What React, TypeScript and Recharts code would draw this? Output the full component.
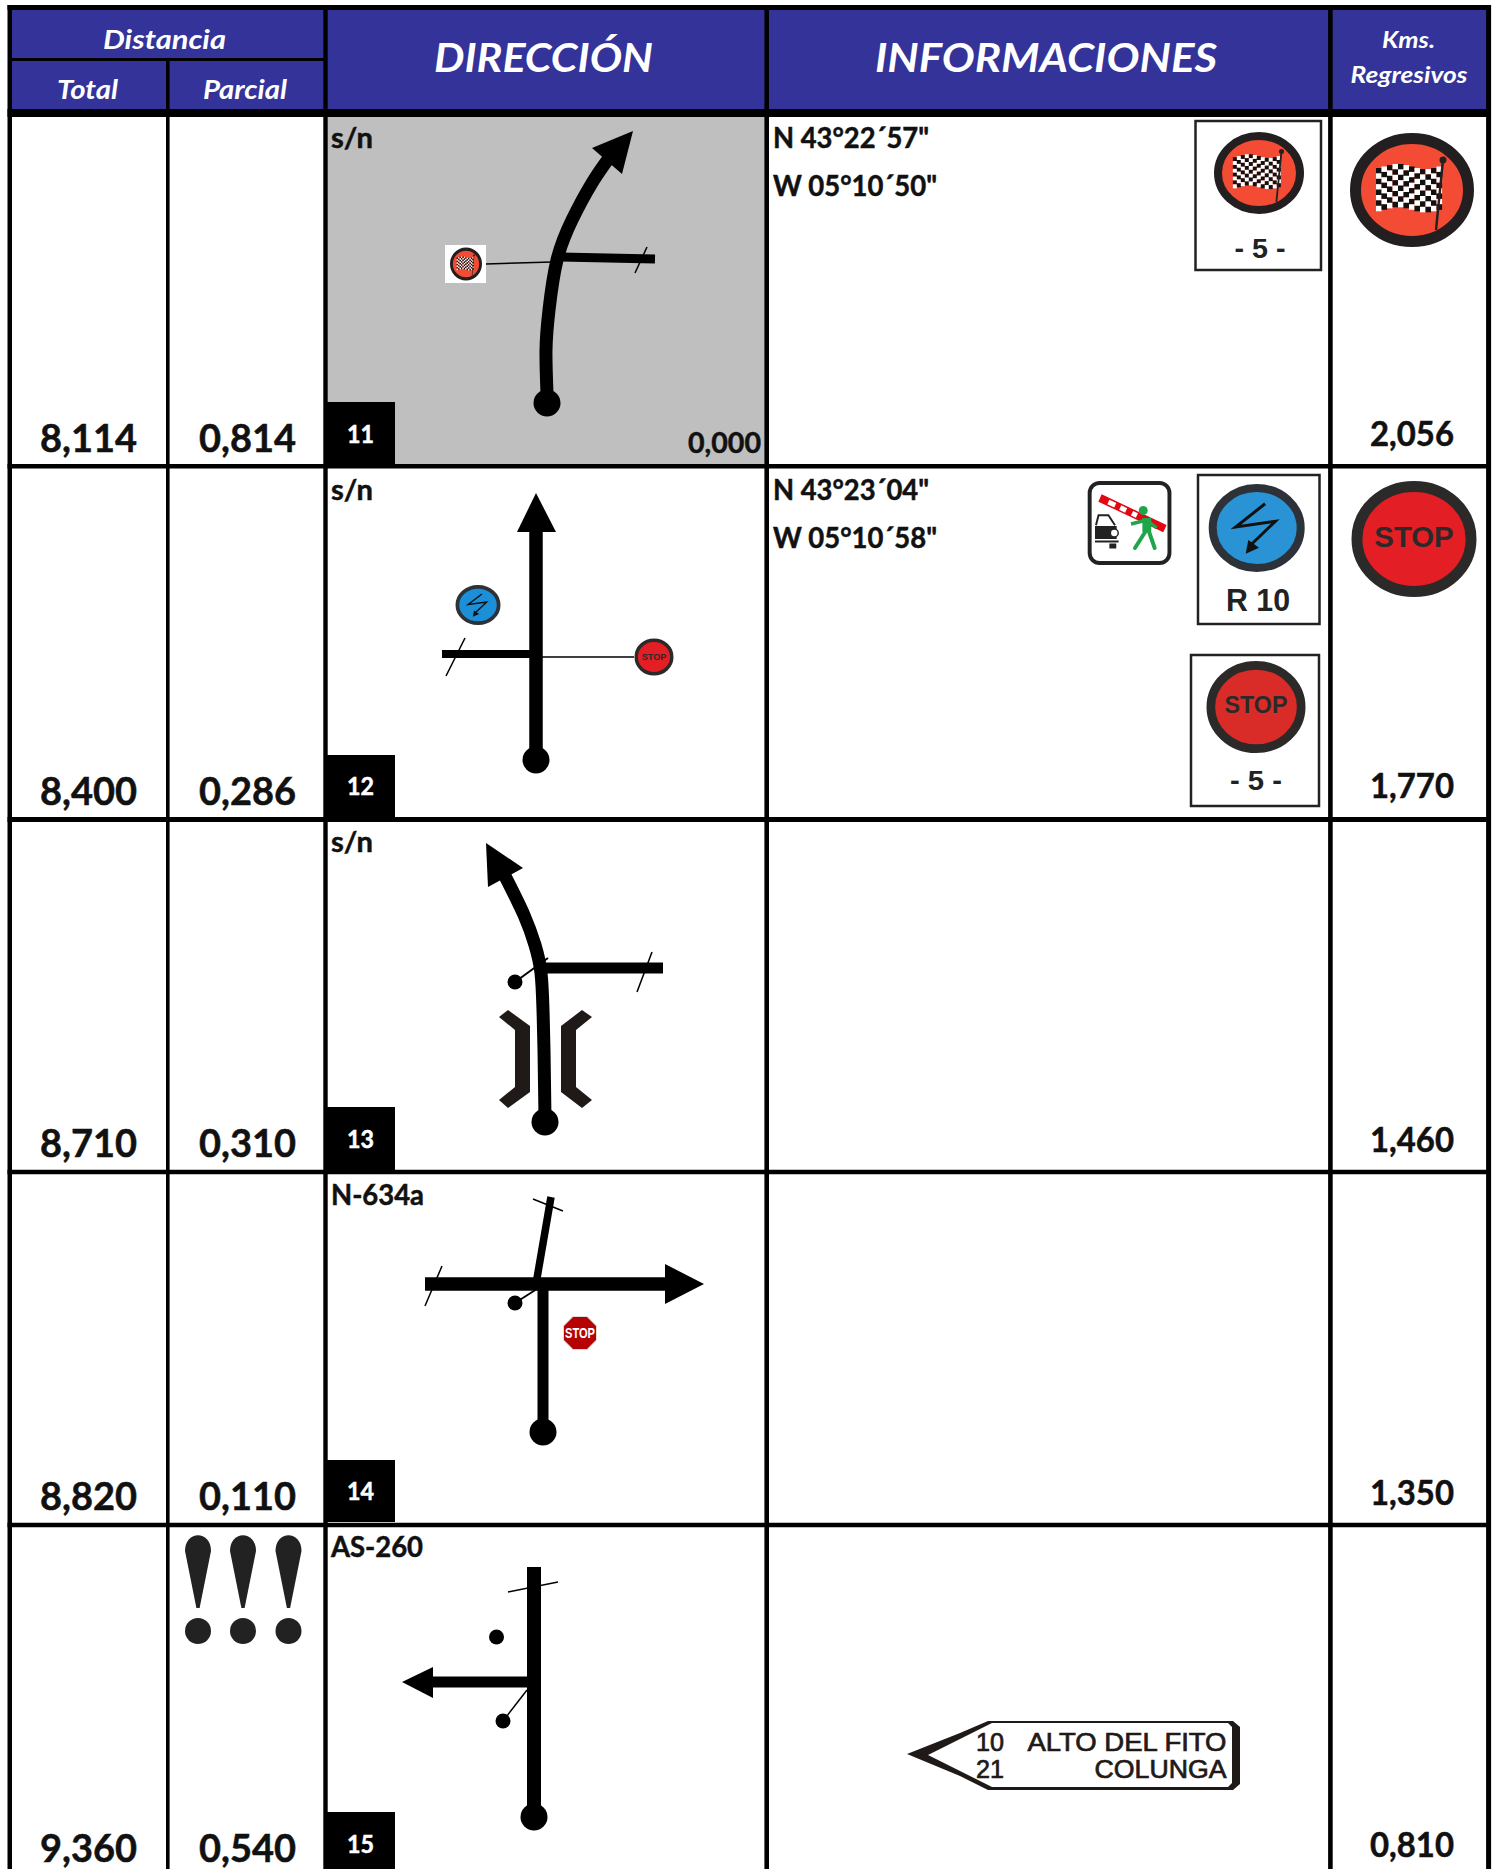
import React from "react";
import {
  ComposedChart,
  Line,
  Polygon,
  ReferenceArea,
  ReferenceDot,
  ReferenceLine,
  Scatter,
  XAxis,
  YAxis,
} from "recharts";

// ── Table values ─────────────────────────────────────────────
const TOTALS = ["8,114", "8,400", "8,710", "8,820", "9,360"];
const PARTIALS = ["0,814", "0,286", "0,310", "0,110", "0,540"];
const REGRESSIVE = ["2,056", "1,770", "1,460", "1,350", "0,810"];
const ROADS = ["s/n", "s/n", "s/n", "N-634a", "AS-260"];
const ROAD_WIDTHS = [42, 42, 42, 93, 92];
const STEPS = ["11", "12", "13", "14", "15"];
const COORDS = [
  ['N 43°22´57"', 'W 05°10´50"'],
  ['N 43°23´04"', 'W 05°10´58"'],
];

// page coordinates
const PAGE_W = 1497;
const PAGE_H = 1869;
const DIST_BASE = [452, 805, 1157, 1510, 1862];
const KMS_BASE = [446, 798, 1152, 1505, 1857];
const ROAD_BASE = [148, 500, 852, 1205, 1557];
const STEP_BASE = [443, 795, 1148, 1500, 1853];
const STEP_TOP = [402, 755, 1107, 1460, 1812];
const STEP_BOTTOM = [464, 817, 1170, 1522, 1869];

const V_RULES = [
  [9.75, 4.5],
  [325.5, 4.4],
  [766.7, 4.6],
  [1330.4, 4.6],
  [1488.6, 5],
];
const H_RULES = [
  [7.5, 5],
  [113, 8],
  [466.2, 4.5],
  [819.5, 5],
  [1172, 4.5],
  [1525, 4.5],
];

// ── Road sketches ────────────────────────────────────────────
type Pt = { x: number; y: number };
const P = (...v: number[]): Pt[] => {
  const out: Pt[] = [];
  for (let i = 0; i < v.length; i += 2) out.push({ x: v[i], y: v[i + 1] });
  return out;
};

// [points, width, curve]
const STROKES: [Pt[], number, "linear" | "natural"][] = [
  // 11
  [P(547, 393, 546, 350, 549, 310, 557, 260, 572, 220, 592, 183, 609, 158), 13, "natural"],
  [P(560, 257, 655, 259), 9, "linear"],
  [P(647, 247, 635, 273), 1.5, "linear"],
  [P(486, 264, 552, 262), 1.5, "linear"],
  // 12
  [P(536, 760, 536, 530), 13.5, "linear"],
  [P(442, 654, 536, 654), 8, "linear"],
  [P(465, 638, 446, 676), 1.5, "linear"],
  [P(536, 657, 634, 657), 1.5, "linear"],
  // 13
  [P(545, 1118, 544, 1050, 543, 1010, 541, 973, 535, 945, 524, 915, 505, 876), 13, "natural"],
  [P(543, 968, 663, 968), 11, "linear"],
  [P(652, 952, 637, 992), 1.5, "linear"],
  [P(515, 982, 548, 958), 2, "linear"],
  // 14
  [P(425, 1284, 667, 1284), 13.5, "linear"],
  [P(536, 1284, 551, 1197), 7.5, "linear"],
  [P(533, 1199, 563, 1211), 1.5, "linear"],
  [P(442, 1266, 425, 1306), 1.5, "linear"],
  [P(543, 1284, 543, 1430), 11, "linear"],
  [P(515, 1303, 540, 1287), 2, "linear"],
  // 15
  [P(534, 1567, 534, 1810), 14, "linear"],
  [P(508, 1592, 558, 1582), 1.5, "linear"],
  [P(430, 1682, 534, 1682), 11, "linear"],
  [P(527, 1690, 503, 1721), 1.5, "linear"],
];

const ARROWS: Pt[][] = [
  P(633, 131, 592, 148, 622, 174),
  P(536, 493, 517, 532, 556, 532),
  P(486, 843, 523, 868, 488, 887),
  P(704, 1284, 665, 1264, 665, 1304),
  P(402, 1682, 433, 1667, 433, 1698),
];

const ROAD_STARTS = P(547, 403, 536, 760, 545, 1122, 543, 1432, 534, 1817);
const SMALL_DOTS = P(515, 982, 515, 1303, 496.5, 1637, 503, 1721);

const BRACKETS: Pt[][] = [
  P(508, 1010, 530, 1026, 530, 1092, 508, 1108, 499, 1100, 515, 1087, 515, 1030, 499, 1017),
  P(582, 1010, 561, 1026, 561, 1092, 582, 1108, 592, 1100, 576, 1087, 576, 1030, 592, 1017),
];

const SIGN_OUTER = P(907, 1754, 960, 1733, 988, 1721, 1233, 1721, 1240, 1727, 1240, 1784, 1233, 1790, 988, 1790, 960, 1776);
const SIGN_INNER = P(928, 1755, 992, 1723, 1228, 1723, 1232, 1727, 1232, 1783, 1228, 1787, 992, 1787);

const WARNING_X = [198, 243, 288.5];

// ── Shapes ───────────────────────────────────────────────────
const LATO = "Lato, Carlito, sans-serif";
const ARIAL = "'Liberation Sans', Arial, sans-serif";
const WAVE = [2, 0.5, -1, -2, -2, -1, 0.5, 2, 3, 3, 2, 0.5];

function axisProps() {
  return { isAnimationActive: false as const, legendType: "none" as const };
}

function CheckerFlag() {
  const cells: React.ReactNode[] = [];
  WAVE.forEach((off, c) => {
    for (let r = 0; r < 8; r++) {
      cells.push(
        <rect
          key={`${c}-${r}`}
          x={-36 + c * 5.5}
          y={-24 + r * 5.4 + off}
          width={5.6}
          height={5.5}
          fill={(c + r) % 2 === 0 ? "#111" : "#fff"}
        />
      );
    }
  });
  return (
    <g>
      {cells}
      <line x1={31} y1={-30} x2={24} y2={40} stroke="#222" strokeWidth={2.5} />
      <circle cx={31} cy={-30} r={3.5} fill="#222" />
    </g>
  );
}

function flagBadge(rx: number, ry: number) {
  return (p: any) => (
    <g transform={`translate(${p.cx},${p.cy}) scale(${rx / 62},${ry / 57})`}>
      <ellipse rx={56.5} ry={51.5} fill="#F44B35" stroke="#231F20" strokeWidth={11} />
      <CheckerFlag />
    </g>
  );
}

function boltBadge(rx: number, ry: number, fill: string) {
  return (p: any) => (
    <g transform={`translate(${p.cx},${p.cy}) scale(${rx / 48},${ry / 44})`}>
      <ellipse rx={44} ry={40} fill={fill} stroke="#2D3138" strokeWidth={8} />
      <polyline points="8.4,-24.3 -21,-1 18.6,-6.7 -7,18" fill="none" stroke="#111" strokeWidth={3} />
      <polygon points="-11,25.7 2.4,19.7 -8.4,12" fill="#111" />
    </g>
  );
}

function stopBadge(rx: number, ry: number, fill: string) {
  return (p: any) => (
    <g transform={`translate(${p.cx},${p.cy}) scale(${rx / 63},${ry / 58})`}>
      <ellipse rx={57.5} ry={52.5} fill={fill} stroke="#2B2A29" strokeWidth={11} />
      <text
        y={8}
        textAnchor="middle"
        fontFamily={ARIAL}
        fontWeight={700}
        fontSize={30}
        fill="#2B2A29"
        textLength={80}
        lengthAdjust="spacingAndGlyphs"
      >
        STOP
      </text>
    </g>
  );
}

function stopOctagon(p: any) {
  const a = 16.5;
  const b = 7;
  const pts = `${-b},${-a} ${b},${-a} ${a},${-b} ${a},${b} ${b},${a} ${-b},${a} ${-a},${b} ${-a},${-b}`;
  return (
    <g transform={`translate(${p.cx},${p.cy})`}>
      <polygon points={pts} fill="#B50303" stroke="#ddd" strokeWidth={1} />
      <text
        y={5}
        textAnchor="middle"
        fontFamily={ARIAL}
        fontWeight={700}
        fontSize={14}
        fill="#fff"
        textLength={30}
        lengthAdjust="spacingAndGlyphs"
      >
        STOP
      </text>
    </g>
  );
}

function barrierIcon(p: any) {
  return (
    <g transform={`translate(${p.cx},${p.cy}) scale(0.985,1)`}>
      <rect x={2} y={2} width={81} height={80} rx={10} fill="#fff" stroke="#222" strokeWidth={4} />
      <line x1={12.5} y1={17} x2={78.4} y2={47.7} stroke="#E30613" strokeWidth={8} />
      <line x1={21} y1={21} x2={28} y2={24.2} stroke="#fff" strokeWidth={5} />
      <line x1={33} y1={26.5} x2={39} y2={29.4} stroke="#fff" strokeWidth={5} />
      <line x1={45} y1={32.2} x2={50} y2={34.6} stroke="#fff" strokeWidth={5} />
      {/* guard */}
      <circle cx={56.4} cy={29.5} r={4.5} fill="#1FA54A" />
      <line x1={60} y1={37} x2={60} y2={51} stroke="#1FA54A" strokeWidth={9} />
      <line x1={60} y1={39} x2={44} y2={43} stroke="#1FA54A" strokeWidth={3.5} />
      <line x1={60} y1={39} x2={70} y2={47} stroke="#1FA54A" strokeWidth={3.5} />
      <line x1={59} y1={50} x2={48} y2={67} stroke="#1FA54A" strokeWidth={4} strokeLinecap="round" />
      <line x1={62} y1={50} x2={68} y2={67} stroke="#1FA54A" strokeWidth={4} strokeLinecap="round" />
      {/* car */}
      <path d="M8.4 44.3 L11 34.3 L21 34.3 L27.7 44.3" fill="none" stroke="#222" strokeWidth={2} />
      <rect x={7.4} y={45} width={22} height={13} fill="#222" />
      <circle cx={27} cy={52} r={4} fill="#fff" stroke="#222" strokeWidth={1.5} />
      <rect x={7.4} y={59.5} width={24} height={2} fill="#222" />
      <rect x={22} y={62.5} width={7} height={5} fill="#222" />
    </g>
  );
}

function warningMark(p: any) {
  return (
    <g transform={`translate(${p.cx},${p.cy})`} fill="#222">
      <path d="M-1.6 73 L-13 16 C-13 -5 13 -5 13 16 L1.6 73 Z" />
      <ellipse cy={96} rx={13} ry={13} />
    </g>
  );
}

// real text placed through the chart scales
function label(
  key: string,
  text: string,
  x: number,
  y: number,
  size: number,
  opts: { width?: number; weight?: number; italic?: boolean; fill?: string; anchor?: string; font?: string; thicken?: number } = {}
) {
  const { width, weight = 700, italic = false, fill = "#111", anchor = "middle", font = LATO, thicken = 0.5 } = opts;
  return (
    <ReferenceDot
      key={key}
      x={x}
      y={y}
      r={0}
      ifOverflow="visible"
      shape={(p: any) => (
        <text
          x={p.cx}
          y={p.cy}
          textAnchor={anchor}
          fontFamily={font}
          fontWeight={weight}
          fontStyle={italic ? "italic" : "normal"}
          fontSize={size}
          fill={fill}
          stroke={thicken ? fill : "none"}
          strokeWidth={thicken}
          textLength={width}
          lengthAdjust={width ? "spacingAndGlyphs" : undefined}
        >
          {text}
        </text>
      )}
    />
  );
}

function icon(key: string, x: number, y: number, shape: (p: any) => React.ReactElement) {
  return <ReferenceDot key={key} x={x} y={y} r={0} ifOverflow="visible" shape={shape} />;
}

function polygon(key: string, pts: Pt[], fill: string) {
  return (
    <Scatter
      key={key}
      data={pts}
      {...axisProps()}
      shape={() => <g />}
      line={(p: any) => <Polygon points={p.points} fill={fill} stroke="none" />}
    />
  );
}

function frame(key: string, x1: number, x2: number, y1: number, y2: number) {
  return (
    <ReferenceArea key={key} x1={x1} x2={x2} y1={y1} y2={y2} fill="none" stroke="#222" strokeWidth={2.5} fillOpacity={0} />
  );
}

export default function App() {
  return (
    <div style={{ position: "absolute", left: 0, top: 0, width: PAGE_W, height: PAGE_H, overflow: "hidden", background: "#fff" }}>
      <ComposedChart width={PAGE_W} height={PAGE_H} margin={{ top: 0, right: 0, bottom: 0, left: 0 }}>
        <XAxis dataKey="x" type="number" domain={[0, PAGE_W]} allowDataOverflow hide />
        <YAxis dataKey="y" type="number" domain={[0, PAGE_H]} reversed allowDataOverflow hide />

        {/* header + grey first sketch */}
        <ReferenceArea x1={12} x2={1487} y1={10} y2={109} fill="#333399" fillOpacity={1} stroke="none" />
        <ReferenceArea x1={327} x2={765} y1={117} y2={464} fill="#BFBFBF" fillOpacity={1} stroke="none" />
        {STEPS.map((_, i) => (
          <ReferenceArea key={`box${i}`} x1={324} x2={395} y1={STEP_TOP[i]} y2={STEP_BOTTOM[i]} fill="#000" fillOpacity={1} stroke="none" />
        ))}
        <ReferenceArea x1={445} x2={486} y1={245} y2={283} fill="#fff" fillOpacity={1} stroke="none" />

        {/* table rules */}
        {V_RULES.map(([x, w]) => (
          <ReferenceLine key={`v${x}`} stroke="#000" strokeWidth={w} segment={[{ x, y: 5 }, { x, y: PAGE_H }]} />
        ))}
        <ReferenceLine segment={[{ x: 167.8, y: 60 }, { x: 167.8, y: PAGE_H }]} stroke="#000" strokeWidth={3.6} />
        {H_RULES.map(([y, w]) => (
          <ReferenceLine key={`h${y}`} stroke="#000" strokeWidth={w} segment={[{ x: 7.5, y }, { x: 1491, y }]} />
        ))}
        <ReferenceLine segment={[{ x: 12, y: 59.5 }, { x: 324, y: 59.5 }]} stroke="#000" strokeWidth={3} />

        {/* road sketches */}
        {STROKES.map(([pts, w, curve], i) => (
          <Line key={`road${i}`} data={pts} dataKey="y" type={curve} stroke="#000" strokeWidth={w} dot={false} activeDot={false} {...axisProps()} />
        ))}
        {ARROWS.map((pts, i) => polygon(`arrow${i}`, pts, "#000"))}
        {BRACKETS.map((pts, i) => polygon(`bracket${i}`, pts, "#1F1A17"))}
        <Scatter data={ROAD_STARTS} {...axisProps()} shape={(p: any) => <circle cx={p.cx} cy={p.cy} r={13.5} fill="#000" />} />
        <Scatter data={SMALL_DOTS} {...axisProps()} shape={(p: any) => <circle cx={p.cx} cy={p.cy} r={7.5} fill="#000" />} />

        {/* direction panel */}
        {polygon("signOuter", SIGN_OUTER, "#1F1A17")}
        {polygon("signInner", SIGN_INNER, "#fff")}

        {/* signs */}
        {icon("flagDiagram", 466, 264, flagBadge(16, 16.5))}
        {icon("flagSign", 1259, 173, flagBadge(45, 41))}
        {icon("flagKms", 1412, 190, flagBadge(62, 57))}
        {icon("boltDiagram", 478, 605, boltBadge(22.5, 20, "#1C8FD9"))}
        {icon("boltSign", 1256.7, 528, boltBadge(48, 44, "#2A93D5"))}
        {icon("stopDiagram", 654, 657, stopBadge(19.5, 18.5, "#E31E24"))}
        {icon("stopSign", 1256, 707, stopBadge(49.5, 46, "#D92B27"))}
        {icon("stopKms", 1414, 539, stopBadge(62.5, 58, "#E31E24"))}
        {icon("barrier", 1087.7, 481, barrierIcon)}
        {icon("octagon", 580, 1333, stopOctagon)}
        {WARNING_X.map((x) => icon(`warn${x}`, x, 1535, warningMark))}
        {frame("frameFlag", 1195.5, 1321, 121, 270)}
        {frame("frameBolt", 1198, 1319.5, 475, 624)}
        {frame("frameStop", 1191, 1319, 655, 806)}

        {/* header text */}
        {label("h1", "Distancia", 164.5, 49, 27, { width: 123, italic: true, fill: "#fff", thicken: 0 })}
        {label("h2", "Total", 87.5, 99, 26, { width: 61, italic: true, fill: "#fff", thicken: 0 })}
        {label("h3", "Parcial", 245, 99, 26, { width: 84, italic: true, fill: "#fff", thicken: 0 })}
        {label("h4", "DIRECCIÓN", 543.5, 72, 41, { width: 219, italic: true, fill: "#fff", thicken: 0 })}
        {label("h5", "INFORMACIONES", 1046, 72, 41, { width: 342, italic: true, fill: "#fff", thicken: 0 })}
        {label("h6", "Kms.", 1408.5, 48, 23, { width: 53, italic: true, fill: "#fff", thicken: 0 })}
        {label("h7", "Regresivos", 1409, 83, 22, { width: 117, italic: true, fill: "#fff", thicken: 0 })}

        {/* rows */}
        {TOTALS.map((t, i) => label(`t${i}`, t, 88.5, DIST_BASE[i], 38, { width: 97 }))}
        {PARTIALS.map((t, i) => label(`p${i}`, t, 247.5, DIST_BASE[i], 38, { width: 97 }))}
        {REGRESSIVE.map((t, i) => label(`k${i}`, t, 1412, KMS_BASE[i], 34, { width: 84 }))}
        {ROADS.map((t, i) => label(`r${i}`, t, 331, ROAD_BASE[i], 28, { width: ROAD_WIDTHS[i], anchor: "start" }))}
        {STEPS.map((t, i) => label(`n${i}`, t, 360.5, STEP_BASE[i], 24, { width: 27, fill: "#fff" }))}
        {label("zero", "0,000", 724.5, 453, 29, { width: 73 })}
        {COORDS.map((pair, i) => [
          label(`cn${i}`, pair[0], 773, ROAD_BASE[i], 28, { width: 156, anchor: "start" }),
          label(`cw${i}`, pair[1], 773, ROAD_BASE[i] + 48, 28, { width: 164, anchor: "start" }),
        ])}

        {/* sign captions */}
        {label("five1", "- 5 -", 1260, 258, 27, { width: 51, font: ARIAL, fill: "#222", thicken: 0 })}
        {label("r10", "R 10", 1258, 611, 31, { width: 64, font: ARIAL, fill: "#222", thicken: 0 })}
        {label("five2", "- 5 -", 1256, 790, 27, { width: 52, font: ARIAL, fill: "#222", thicken: 0 })}
        {label("s1", "10", 990, 1751, 25, { width: 28, font: ARIAL, weight: 400, fill: "#1F1A17", thicken: 0.7 })}
        {label("s2", "ALTO DEL FITO", 1226.5, 1751, 25, { width: 199, font: ARIAL, weight: 400, anchor: "end", fill: "#1F1A17", thicken: 0.7 })}
        {label("s3", "21", 990, 1778, 25, { width: 28, font: ARIAL, weight: 400, fill: "#1F1A17", thicken: 0.7 })}
        {label("s4", "COLUNGA", 1226.5, 1778, 25, { width: 132, font: ARIAL, weight: 400, anchor: "end", fill: "#1F1A17", thicken: 0.7 })}
      </ComposedChart>
    </div>
  );
}
